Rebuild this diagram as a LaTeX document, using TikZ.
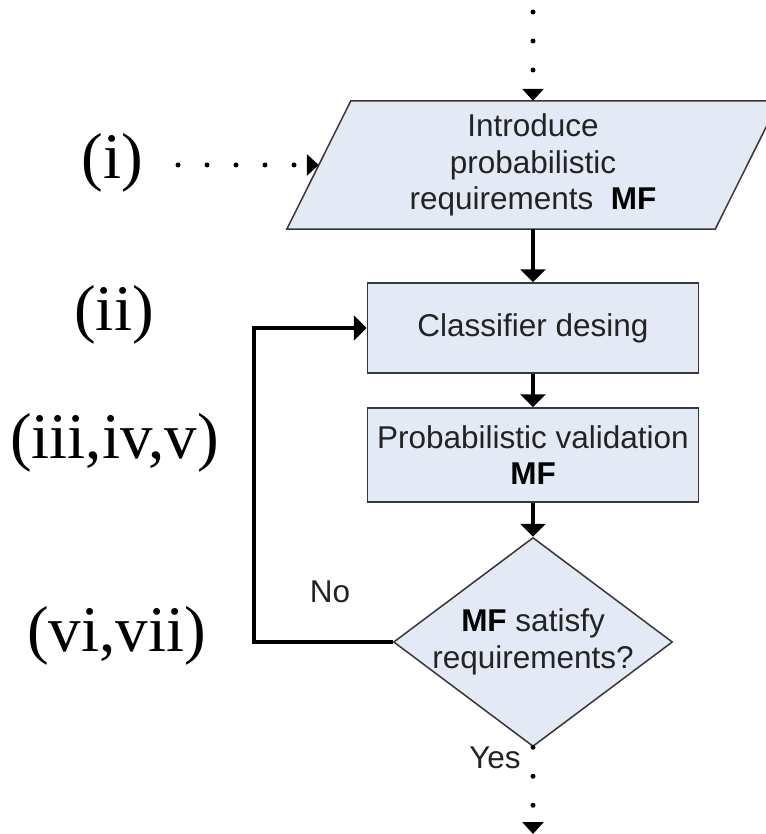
\documentclass[tikz,border=0pt]{standalone}
\usepackage{fontspec}
\setmainfont{Liberation Serif}
\newfontfamily\boxfont{Liberation Sans}
\usetikzlibrary{arrows.meta,shapes.geometric,backgrounds}
\definecolor{boxfill}{RGB}{228,234,245}
\definecolor{boxline}{RGB}{55,55,55}
\definecolor{boxtext}{RGB}{35,35,35}

\begin{document}
\begin{tikzpicture}[x=1pt,y=-1pt,
  flowtext/.style={font=\boxfont\fontsize{31.5}{36.5}\selectfont, text=boxtext, align=center},
  procbox/.style={flowtext, rectangle, draw=boxline, line width=1.5pt, fill=boxfill,
                  minimum width=331pt, inner sep=0pt},
  decbox/.style={diamond, draw=boxline, line width=1.5pt, fill=boxfill, inner sep=0pt},
  flow/.style={line width=4.5pt, -{Triangle[length=13pt,width=25pt]}},
  dotflow/.style={line width=5pt, line cap=round, dash pattern=on 0pt off 29pt,
                  -{Triangle[length=12pt,width=21pt]}},
  steplabel/.style={font=\fontsize{65}{70}\selectfont, anchor=base, inner sep=0pt}
]
\useasboundingbox (0,0) rectangle (765,834);

% input step (parallelogram body drawn behind the text node)
\node[flowtext, minimum width=428pt, minimum height=128pt, inner sep=0pt] (intro) at (533,165)
  {Introduce\\probabilistic\\requirements\ \ \textbf{\color{black}MF}};
\begin{scope}[on background layer]
  \filldraw[draw=boxline, fill=boxfill, line width=1.5pt]
    ([xshift=-32pt]intro.south west) -- ([xshift=-32pt]intro.south east)
    -- ([xshift=32pt]intro.north east) -- ([xshift=32pt]intro.north west) -- cycle;
\end{scope}

% process steps
\node[procbox, minimum height=90pt] (cd) at (533,328) {Classifier desing};
\node[procbox, minimum height=94pt] (pv) at (533,455)
  {Probabilistic validation\\\textbf{\color{black}MF}};

% decision
\node[decbox, minimum width=279pt, minimum height=209pt] (dec) at (533,642) {};
\node[flowtext, inner sep=0pt] (dect) at (dec.center)
  {\textbf{\color{black}MF} satisfy\\requirements?};

% branch labels
\node[flowtext] (no) at (330,592) {No};
\node[flowtext] (yes) at (495,758) {Yes};

% main flow
\draw[flow] (intro.south) -- (cd.north);
\draw[flow] (cd.south) -- (pv.north);
\draw[flow] (pv.south) -- (dec.north);

% feedback loop
\coordinate (fb) at (254,642);
\draw[flow] (dec.west) -- (fb) |- (cd.west);

% dotted entry and exit connectors
\coordinate (topin) at (533,12);
\coordinate (leftin) at (178,165);
\coordinate (botout) at (533,834);
\draw[dotflow] (topin) -- (intro.north);
\draw[dotflow] (leftin) -- (intro.west);
\draw[dotflow] (dec.south) -- (botout);

% step numbers
\node[steplabel] (s1) at (112.5,178.5) {(i)};
\node[steplabel] (s2) at (114,330.5) {(ii)};
\node[steplabel] (s3) at (114.5,458.5) {(iii,iv,v)};
\node[steplabel] (s4) at (116.5,651.5) {(vi,vii)};
\end{tikzpicture}
\end{document}
